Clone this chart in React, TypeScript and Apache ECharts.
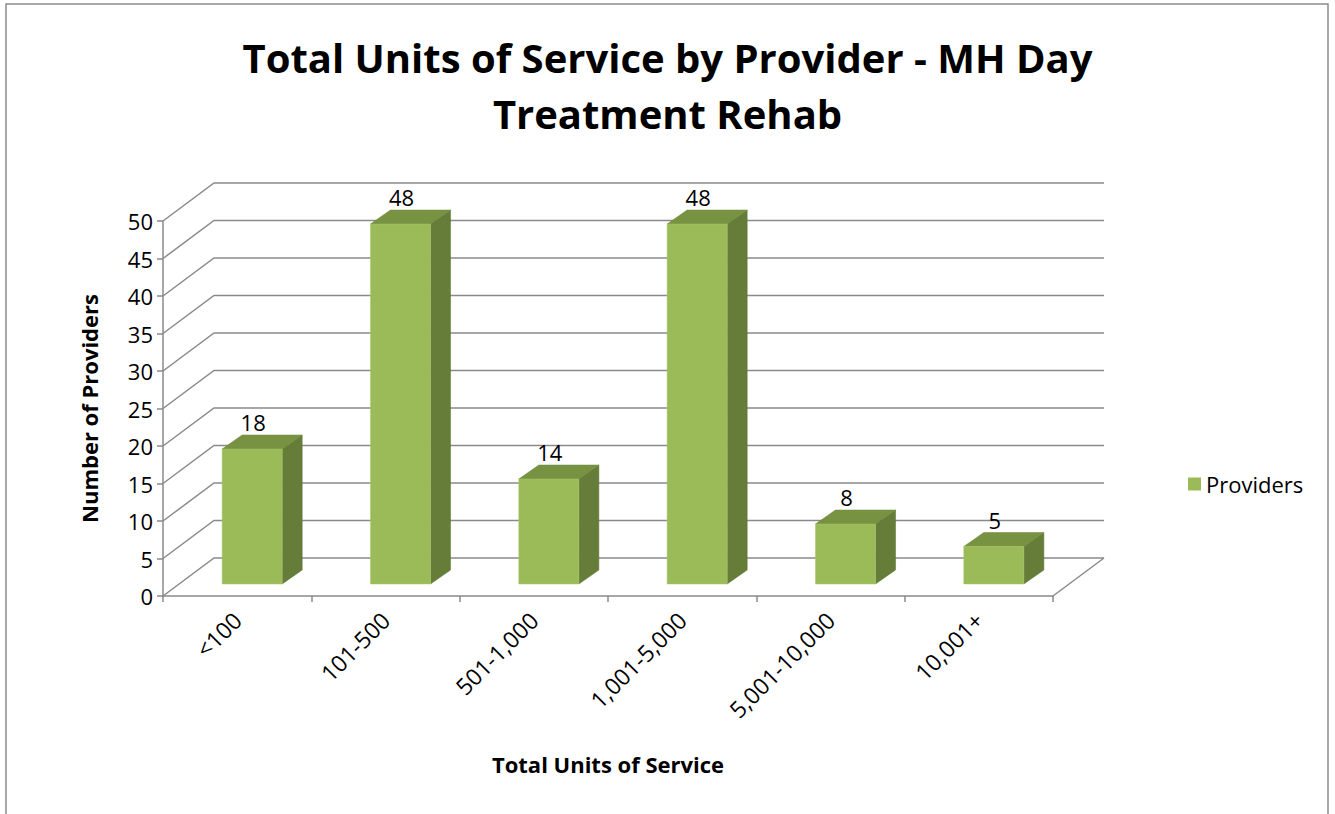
import React, { useEffect, useRef } from "react";
import * as echarts from "echarts";

const categories = ["<100", "101-500", "501-1,000", "1,001-5,000", "5,001-10,000", "10,001+"];
const providers = [18, 48, 14, 48, 8, 5];
const yTicks = [0, 5, 10, 15, 20, 25, 30, 35, 40, 45, 50];

const FONT = "'Open Sans', Lato, sans-serif";
const GRID = "#8a8a8a";
const FRONT = "#9bbb59";
const SIDE = "#667d39";
const TOP = "#779241";
// 3D depth of the back wall and the bars
const WALL_DX = 51;
const WALL_DY = -38;
const BAR_SHIFT_X = 15;
const BAR_SHIFT_Y = -12;
const BAR_DX = 20;
const BAR_DY = -14;

export default function App() {
  const ref = useRef<HTMLDivElement>(null);

  useEffect(() => {
    if (!ref.current) return;
    const chart = echarts.init(ref.current, null, { renderer: "svg" });

    const wallRender = (params: any, api: any) => {
      const cs = params.coordSys;
      const v = api.value(1);
      const [, y] = api.coord([0, v]);
      const x0 = cs.x;
      const x1 = cs.x + cs.width;
      const children: any[] = [
        {
          type: "polyline",
          shape: {
            points: [
              [x0, y],
              [x0 + WALL_DX, y + WALL_DY],
              [x1 + WALL_DX, y + WALL_DY],
            ],
          },
          style: { stroke: GRID, lineWidth: 1.5, fill: "none" },
        },
      ];
      if (v === 0) {
        children.push({
          type: "line",
          shape: { x1: x1, y1: y, x2: x1 + WALL_DX, y2: y + WALL_DY },
          style: { stroke: GRID, lineWidth: 1.5 },
        });
      }
      return { type: "group", children };
    };

    const barRender = (params: any, api: any) => {
      const idx = api.value(0);
      const v = api.value(1);
      const [cx, yTopRaw] = api.coord([idx, v]);
      const [, y0Raw] = api.coord([idx, 0]);
      const band = api.size([1, 0])[0];
      const w = band * 0.405;
      const xl = cx + BAR_SHIFT_X - w / 2;
      const xr = cx + BAR_SHIFT_X + w / 2;
      const yt = yTopRaw + BAR_SHIFT_Y;
      const yb = y0Raw + BAR_SHIFT_Y;
      return {
        type: "group",
        children: [
          {
            type: "polygon",
            shape: { points: [[xr, yt], [xr + BAR_DX, yt + BAR_DY], [xr + BAR_DX, yb + BAR_DY], [xr, yb]] },
            style: { fill: SIDE, stroke: "#5f7535", lineWidth: 0.5 },
          },
          {
            type: "polygon",
            shape: { points: [[xl, yt], [xl + BAR_DX, yt + BAR_DY], [xr + BAR_DX, yt + BAR_DY], [xr, yt]] },
            style: { fill: TOP, stroke: "#6f893c", lineWidth: 0.5 },
          },
          {
            type: "rect",
            shape: { x: xl, y: yt, width: xr - xl, height: yb - yt },
            style: { fill: FRONT, stroke: "#a9c86a", lineWidth: 0.5 },
          },
          {
            type: "text",
            x: (xl + xr) / 2 + 1,
            y: yt + BAR_DY - 2,
            style: {
              text: String(v),
              fill: "#000",
              font: `22px ${FONT}`,
              align: "center",
              verticalAlign: "bottom",
            },
          },
        ],
      };
    };

    chart.setOption({
      animation: false,
      backgroundColor: "#fff",
      title: {
        text: "Total Units of Service by Provider - MH Day\nTreatment Rehab",
        left: "center",
        top: 24,
        textStyle: {
          fontFamily: FONT,
          fontSize: 40,
          fontWeight: "bold",
          color: "#000",
          lineHeight: 56,
        },
      },
      legend: {
        data: [{ name: "Providers", icon: "rect" }],
        left: 1183,
        top: 468,
        itemWidth: 13,
        itemHeight: 13,
        itemGap: 6,
        textStyle: { fontFamily: FONT, fontSize: 22, color: "#000" },
      },
      grid: { left: 163, right: 282, top: 221, bottom: 218 },
      xAxis: {
        type: "category",
        data: categories,
        axisLine: { lineStyle: { color: GRID, width: 1.5 } },
        axisTick: { show: true, length: 6, lineStyle: { color: GRID, width: 1.5 } },
        axisLabel: { rotate: 45, margin: 20, fontFamily: FONT, fontSize: 23, color: "#000" },
        name: "Total Units of Service",
        nameLocation: "middle",
        nameGap: 157,
        nameTextStyle: { fontFamily: FONT, fontSize: 22, fontWeight: "bold", color: "#000" },
        splitLine: { show: false },
      },
      yAxis: {
        type: "value",
        min: 0,
        max: 50,
        interval: 5,
        axisLine: { show: true, lineStyle: { color: GRID, width: 1.5 } },
        axisTick: { show: true, length: 6, lineStyle: { color: GRID, width: 1.5 } },
        axisLabel: { margin: 10, fontFamily: FONT, fontSize: 22, color: "#000" },
        splitLine: { show: false },
        name: "Number of Providers",
        nameLocation: "middle",
        nameRotate: 90,
        nameGap: 63,
        nameTextStyle: { fontFamily: FONT, fontSize: 22, fontWeight: "bold", color: "#000" },
      },
      graphic: [
        {
          type: "rect",
          shape: { x: 6, y: 4, width: 1322, height: 830 },
          style: { fill: "none", stroke: "#8c8c8c", lineWidth: 1.5 },
          silent: true,
        },
      ],
      series: [
        {
          type: "custom",
          name: "wall",
          renderItem: wallRender,
          data: yTicks.map((t) => [0, t]),
          encode: { x: 0, y: 1 },
          z: 1,
          silent: true,
        },
        {
          type: "custom",
          name: "Providers",
          renderItem: barRender,
          itemStyle: { color: FRONT },
          data: providers.map((v, i) => [i, v]),
          encode: { x: 0, y: 1 },
          z: 3,
        },
      ],
    });

    return () => chart.dispose();
  }, []);

  return (
    <div
      ref={ref}
      style={{ position: "absolute", left: 0, top: 0, width: 1335, height: 814 }}
    />
  );
}
